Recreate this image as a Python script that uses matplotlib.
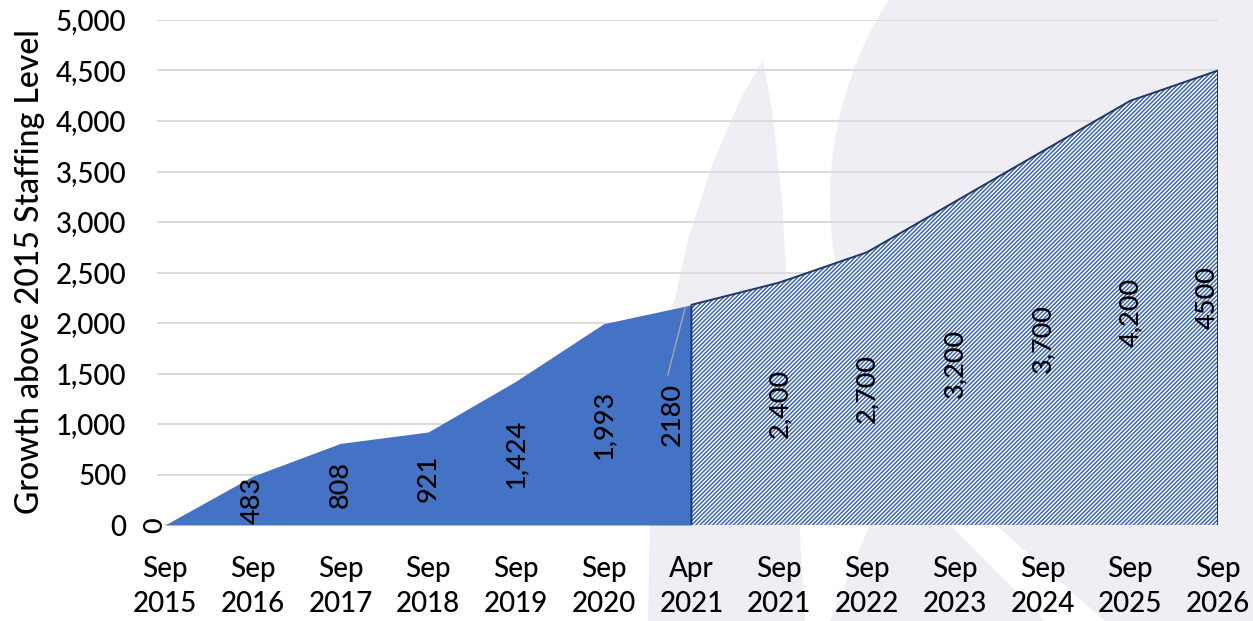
import matplotlib
matplotlib.use("Agg")
import matplotlib.pyplot as plt
from matplotlib.patches import Polygon, Circle
import numpy as np

# data
periods = ["Sep\n2015", "Sep\n2016", "Sep\n2017", "Sep\n2018", "Sep\n2019", "Sep\n2020",
           "Apr\n2021", "Sep\n2021", "Sep\n2022", "Sep\n2023", "Sep\n2024", "Sep\n2025", "Sep\n2026"]
growth = [0, 483, 808, 921, 1424, 1993, 2180, 2400, 2700, 3200, 3700, 4200, 4500]
value_labels = ["0", "483", "808", "921", "1,424", "1,993", "2180",
                "2,400", "2,700", "3,200", "3,700", "4,200", "4500"]
actual_end = 6  # index of Apr 2021, where projection starts

plt.rcParams["font.family"] = ["Lato", "DejaVu Sans"]
plt.rcParams["font.weight"] = "medium"
plt.rcParams["hatch.linewidth"] = 1.1

W, H = 1253, 621
fig = plt.figure(figsize=(W / 100, H / 100), dpi=100)

# faint watermark in the background (pixel coords, y from top)
wm = "#EEEEF4"
def px(pts):
    return [(x, H - y) for x, y in pts]
def wm_poly(pts, color=wm, z=-10):
    fig.patches.append(Polygon(px(pts), closed=True, transform=None, facecolor=color,
                               edgecolor="none", zorder=z))
fig.patches.append(Circle((1200, H - 200), 370, transform=None, facecolor=wm,
                          edgecolor="none", zorder=-10))
wm_poly([(763, 60), (740, 100), (712, 165), (688, 240), (670, 320), (657, 420),
         (650, 520), (648, 621), (805, 621), (795, 450), (789, 320), (782, 200), (772, 110)])
wm_poly([(880, 500), (1253, 500), (1253, 621), (830, 621)])
wm_poly([(945, 520), (990, 520), (1105, 621), (1045, 621)], color="white", z=-9)

ax = fig.add_axes([157 / W, 1 - 525 / H, (1218 - 157) / W, (525 - 20) / H])
ax.patch.set_alpha(0)

x = np.arange(len(growth))
ya = np.array(growth, dtype=float)

# actual (solid) and projected (hatched) areas
ax.fill_between(x[:actual_end + 1], 0, ya[:actual_end + 1], color="#4472C4",
                linewidth=0, zorder=2)
ax.fill_between(x[actual_end:], 0, ya[actual_end:], facecolor="white",
                edgecolor="#3D68B2", hatch="////////", linewidth=0, zorder=2)
px_out = np.concatenate([[x[actual_end]], x[actual_end:], [x[-1]]])
py_out = np.concatenate([[0], ya[actual_end:], [0]])
ax.plot(px_out, py_out, color="#203864", linewidth=1.4, zorder=3)
ax.plot([x[actual_end], x[-1]], [0, 0], color="#8FA3C8", linewidth=1.0, zorder=3)

# data labels, centred at half height (Excel style)
dx = {0: -0.11, 6: -0.22, 12: -0.12}
for i, (v, s) in enumerate(zip(growth, value_labels)):
    ax.text(i + dx.get(i, 0), v / 2, s, rotation=90, ha="center", va="center",
            fontsize=19.5, color="black", zorder=4)
# leader line for the Apr 2021 label
ax.plot([5.73, 5.93], [1485, 2158], color="#A6A6A6", linewidth=1.0, zorder=4)

ax.set_xlim(-0.09, 12)
ax.set_ylim(0, 5000)
ax.set_yticks(np.arange(0, 5001, 500))
ax.set_yticklabels([f"{t:,}" for t in range(0, 5001, 500)])
ax.set_xticks(x)
ax.set_xticklabels(periods, linespacing=1.45)
ax.grid(axis="y", color="#D9D9D9", linewidth=1.3, zorder=1)
ax.set_axisbelow(True)
for sp in ax.spines.values():
    sp.set_visible(False)
ax.tick_params(axis="y", length=0, pad=22, labelsize=20)
ax.tick_params(axis="x", length=0, pad=22, labelsize=20)

fig.text(30 / W, 1 - 272 / H, "Growth above 2015 Staffing Level", rotation=90,
         ha="center", va="center", fontsize=23)

fig.savefig("out.png", dpi=100)
plt.close(fig)
